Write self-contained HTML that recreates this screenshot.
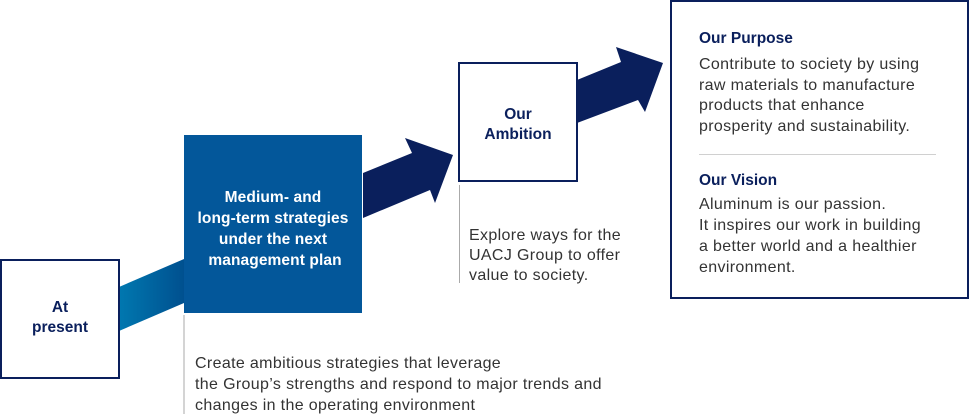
<!DOCTYPE html>
<html><head><meta charset="utf-8"><style>
html,body{margin:0;padding:0;background:#fff;}
svg{display:block;font-family:"Liberation Sans",sans-serif;}
.b{font-weight:bold;fill:#0a1f5c;font-size:15.5px;}
.t{fill:#333;font-size:16px;letter-spacing:0.35px;}
.w{font-weight:bold;fill:#fff;font-size:15.5px;letter-spacing:0.1px;}
</style></head><body>
<svg width="970" height="414" viewBox="0 0 970 414">
<defs><linearGradient id="g" x1="0" x2="1" y1="0" y2="0"><stop offset="0" stop-color="#0078b0"/><stop offset="1" stop-color="#00508f"/></linearGradient></defs>
<polygon points="119,287 184,259 184,303 119,331" fill="url(#g)"/>
<rect x="1" y="260" width="118" height="118" fill="#fff" stroke="#0a1f5c" stroke-width="2"/>
<text class="b" x="60" y="312" text-anchor="middle">At</text>
<text class="b" x="60" y="332" text-anchor="middle">present</text>
<rect x="184" y="135" width="178" height="178" fill="#03579a"/>
<text class="w" x="273" y="202" text-anchor="middle">Medium- and</text>
<text class="w" x="273" y="223" text-anchor="middle">long-term strategies</text>
<text class="w" x="273" y="244" text-anchor="middle">under the next</text>
<text class="w" x="275" y="265" text-anchor="middle">management plan</text>
<polygon points="363,173 412,153 405,138 453,155 435,203 430,190 363,218" fill="#0a1f5c"/>
<rect x="459" y="63" width="118" height="118" fill="#fff" stroke="#0a1f5c" stroke-width="2"/>
<text class="b" x="518" y="119" text-anchor="middle">Our</text>
<text class="b" x="518" y="139" text-anchor="middle">Ambition</text>
<polygon points="577,80 621,62 616,47 663,63 645,112 638,100 577,123" fill="#0a1f5c"/>
<rect x="671" y="1" width="297" height="297" fill="#fff" stroke="#0a1f5c" stroke-width="2"/>
<text class="b" x="699" y="43">Our Purpose</text>
<text class="t" x="699" y="69">Contribute to society by using</text>
<text class="t" x="699" y="90">raw materials to manufacture</text>
<text class="t" x="699" y="110">products that enhance</text>
<text class="t" x="699" y="131">prosperity and sustainability.</text>
<line x1="699" y1="154.5" x2="936" y2="154.5" stroke="#d0d0d0" stroke-width="1"/>
<text class="b" x="699" y="185">Our Vision</text>
<text class="t" x="699" y="209">Aluminum is our passion.</text>
<text class="t" x="699" y="230">It inspires our work in building</text>
<text class="t" x="699" y="251">a better world and a healthier</text>
<text class="t" x="699" y="272">environment.</text>
<line x1="184" y1="315" x2="184" y2="414" stroke="#aaa" stroke-width="1"/>
<line x1="459.5" y1="185" x2="459.5" y2="283" stroke="#aaa" stroke-width="1"/>
<text class="t" x="469" y="240">Explore ways for the</text>
<text class="t" x="469" y="260">UACJ Group to offer</text>
<text class="t" x="469" y="280">value to society.</text>
<text class="t" x="195" y="368">Create ambitious strategies that leverage</text>
<text class="t" x="195" y="389">the Group’s strengths and respond to major trends and</text>
<text class="t" x="195" y="410">changes in the operating environment</text>
</svg>
</body></html>
